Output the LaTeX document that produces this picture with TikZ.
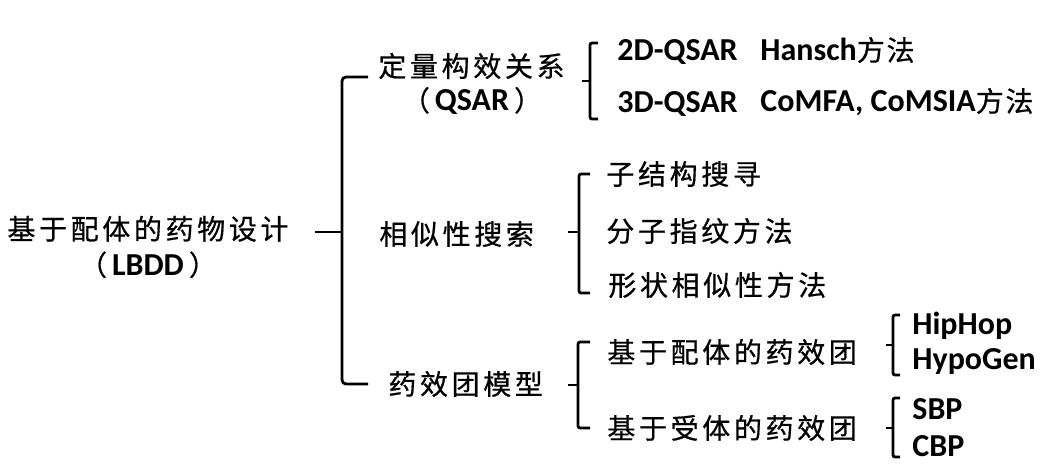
\documentclass[tikz,border=0pt]{standalone}
\usepackage{fontspec}
\setmainfont{Carlito}
\newfontfamily\cjk{Noto Sans CJK SC}[LetterSpace=13, FakeBold=0.6]
\newfontfamily\cjkn{Noto Sans CJK SC}[LetterSpace=6, FakeBold=0.6]
\newcommand\abbr[1]{\hspace{5pt}{\rmfamily\bfseries\fontsize{32}{36}\selectfont #1}\hspace{5pt}}
\usetikzlibrary{positioning}

\begin{document}
\begin{tikzpicture}[x=1pt, y=-1pt, line width=2.8pt, line cap=butt,
   zh/.style={inner sep=0pt, anchor=west, font=\cjk\fontsize{28}{36}\selectfont},
   en/.style={inner sep=0pt, anchor=west, font=\bfseries\fontsize{32}{36}\selectfont},
   brk/.style={rounded corners=2pt}]
   \useasboundingbox (0,0) rectangle (1047,475);
   % root
   \node[zh, anchor=center, align=center] (lbdd) at (148,247) {基于配体的药物设计\\（\abbr{LBDD}）};
   % first level
   \node[zh] (qsar) at (377,66) {定量构效关系};
   \node[zh, anchor=center] (qsarab) at (472,101) {（\abbr{QSAR}）};
   \node[zh] (sim) at (378,234) {相似性搜索};
   \node[zh] (pharm) at (387,384) {药效团模型};
   % QSAR
   \node[en] (q2d) at (616,52) {2D-QSAR};
   \node[en] (hansch) at (759,50) {Hansch{\mdseries\cjkn\fontsize{28}{36}\selectfont 方法}};
   \node[en] (q3d) at (616,104) {3D-QSAR};
   \node[en] (comfa) at (759,102) {CoMFA, CoMSIA{\mdseries\cjkn\fontsize{28}{36}\selectfont 方法}};
   % similarity
   \node[zh] (sub) at (605,174) {子结构搜寻};
   \node[zh] (fp) at (605,231) {分子指纹方法};
   \node[zh] (shape) at (607,285) {形状相似性方法};
   % pharmacophore
   \node[zh] (lig) at (606,352) {基于配体的药效团};
   \node[zh] (rec) at (606,428) {基于受体的药效团};
   \node[en] (hiphop) at (911,326) {HipHop};
   \node[en] (hypogen) at (911,362) {HypoGen};
   \node[en] (sbp) at (911,409) {SBP};
   \node[en] (cbp) at (911,446) {CBP};
   % brackets
   \coordinate (b0) at (342,232);
   \draw[brk, rounded corners=4pt] (b0) ++(26,-155) -| (b0) |- ++(26,152);
   \draw (b0) -- ++(-27,0);
   \coordinate (b1) at (590,81);
   \draw[brk] (b1) ++(8,-38) -| (b1) |- ++(8,38);
   \draw (b1) -- ++(-8,0);
   \coordinate (b2) at (579,232);
   \draw[brk] (b2) ++(11,-58) -| (b2) |- ++(11,61);
   \draw (b2) -- ++(-11,0);
   \coordinate (b3) at (578,385);
   \draw[brk] (b3) ++(12,-43) -| (b3) |- ++(12,43);
   \draw (b3) -- ++(-10,0);
   \coordinate (b4) at (893,345);
   \draw[brk] (b4) ++(7,-30) -| (b4) |- ++(7,30);
   \draw (b4) -- ++(-7,0);
   \coordinate (b5) at (893,428);
   \draw[brk] (b5) ++(7,-30) -| (b5) |- ++(7,29);
   \draw (b5) -- ++(-7,0);
\end{tikzpicture}
\end{document}
